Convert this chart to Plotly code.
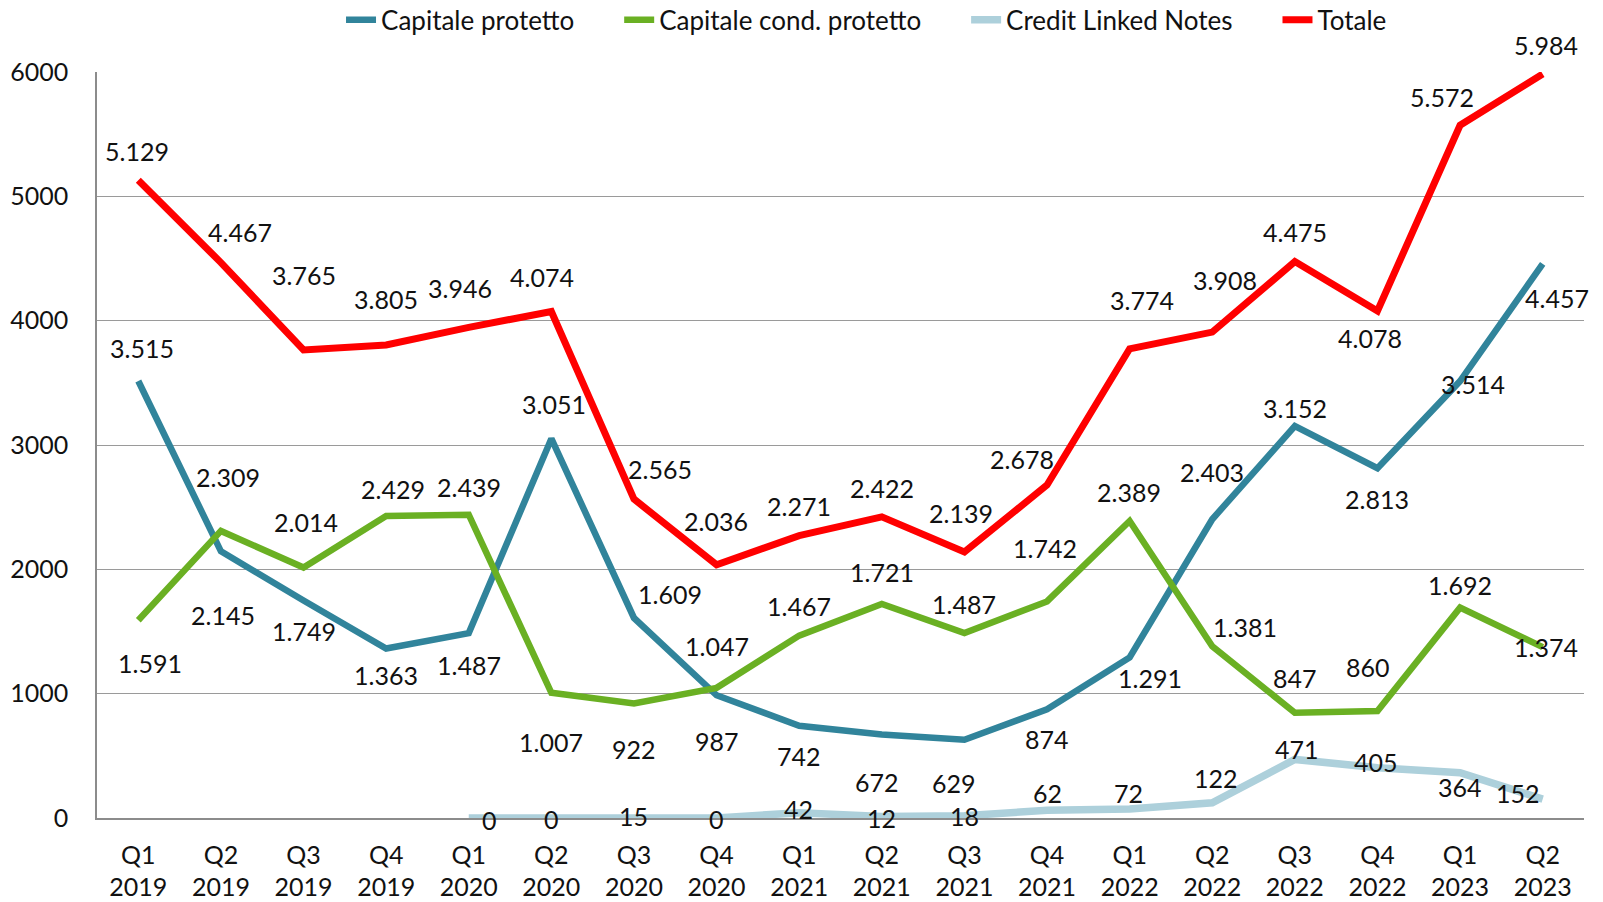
import plotly.graph_objects as go

categories = ["Q1<br>2019", "Q2<br>2019", "Q3<br>2019", "Q4<br>2019",
              "Q1<br>2020", "Q2<br>2020", "Q3<br>2020", "Q4<br>2020",
              "Q1<br>2021", "Q2<br>2021", "Q3<br>2021", "Q4<br>2021",
              "Q1<br>2022", "Q2<br>2022", "Q3<br>2022", "Q4<br>2022",
              "Q1<br>2023", "Q2<br>2023"]

capitale_protetto = [3515, 2145, 1749, 1363, 1487, 3051, 1609, 987, 742, 672,
                     629, 874, 1291, 2403, 3152, 2813, 3514, 4457]
capitale_cond = [1591, 2309, 2014, 2429, 2439, 1007, 922, 1047, 1467, 1721,
                 1487, 1742, 2389, 1381, 847, 860, 1692, 1374]
credit_linked = [None, None, None, None, 0, 0, 15, 0, 42, 12, 18, 62, 72,
                 122, 471, 405, 364, 152]
totale = [5129, 4467, 3765, 3805, 3946, 4074, 2565, 2036, 2271, 2422, 2139,
          2678, 3774, 3908, 4475, 4078, 5572, 5984]

series_names = ["Capitale protetto", "Capitale cond. protetto",
                "Credit Linked Notes", "Totale"]

# label offsets (pixels, dx right, dy down)
off_prot = [(4, -32), (2, 62), (0, 30), (0, 26), (0, 31), (3, -34), (35, -23),
            (0, 45), (0, 30), (-5, 47), (-10, 42), (0, 29), (20, 20), (0, -46),
            (0, -18), (0, 30), (13, 3), (14, 33)]
off_cond = [(11, 42), (7, -53), (2, -45), (7, -26), (0, -27), (0, 48), (0, 45),
            (0, -41), (0, -29), (0, -31), (0, -28), (-2, -52), (-1, -28),
            (32, -19), (0, -34), (-9, -43), (0, -22), (3, 0)]
off_cln = [None, None, None, None, (20, 2), (0, 1), (0, 0), (0, 1), (-1, -4),
           (0, 1), (0, 0), (0, -17), (-1, -16), (4, -24), (2, -10), (-1, -6),
           (0, 14), (-24, -6)]
off_tot = [(-1, -29), (19, -30), (0, -73), (0, -45), (-9, -39), (-9, -34),
           (25, -29), (-1, -43), (0, -29), (0, -28), (-3, -38), (-24, -25),
           (12, -48), (12, -51), (0, -29), (-7, 26), (-18, -28), (3, -28)]

series = [
    (series_names[0], capitale_protetto, "#31849B", 6.5, off_prot),
    (series_names[1], capitale_cond, "#6AB023", 6.5, off_cond),
    (series_names[2], credit_linked, "#ADD0DB", 7.5, off_cln),
    (series_names[3], totale, "#FF0000", 7, off_tot),
]

FONT = "Lato, 'Noto Sans', sans-serif"
FS = 25
S = 1603 / 1568
PAD = "\u00a0" * 6

def fmt(v):
    return f"{v:,}".replace(",", ".")

fig = go.Figure()
annotations = []
for k, (name, vals, color, w, offs) in enumerate(series):
    shown = name + (PAD if k < len(series) - 1 else "")
    fig.add_trace(go.Scatter(
        x=categories, y=vals, name=shown, mode="lines",
        line=dict(color=color, width=w),
        connectgaps=False, cliponaxis=False))
    for c, v, o in zip(categories, vals, offs):
        if v is None:
            continue
        annotations.append(dict(
            x=c, y=v, xref="x", yref="y", text=fmt(v), showarrow=False,
            xshift=o[0] * S, yshift=-o[1] * S,
            font=dict(family=FONT, size=FS, color="#111111")))

fig.update_layout(
    width=1603, height=902,
    margin=dict(l=97, r=19, t=72, b=84, autoexpand=False),
    paper_bgcolor="white", plot_bgcolor="white",
    font=dict(family=FONT, size=FS, color="#111111"),
    showlegend=True,
    legend=dict(orientation="h", x=0.5175, xanchor="center", y=1.07,
                yanchor="middle", font=dict(family=FONT, size=FS + 1),
                itemwidth=30, traceorder="normal"),
    annotations=annotations,
    xaxis=dict(type="category", range=[-0.5, 17.5], showgrid=False,
               showline=True, linecolor="#8C8C8C", linewidth=1.5,
               ticks="", tickfont=dict(size=FS), zeroline=False,
               automargin=False, ticklabelstandoff=14),
    yaxis=dict(range=[0, 6000], dtick=1000, showgrid=True,
               gridcolor="#9A9A9A", gridwidth=1, showline=True,
               linecolor="#8C8C8C", linewidth=1.5, ticks="",
               tickfont=dict(size=FS), zeroline=False, ticklabelstandoff=22,
               automargin=False),
)

fig.write_html("out.html",
               config={"displayModeBar": False},
               post_script="document.body.style.margin='0px';")
